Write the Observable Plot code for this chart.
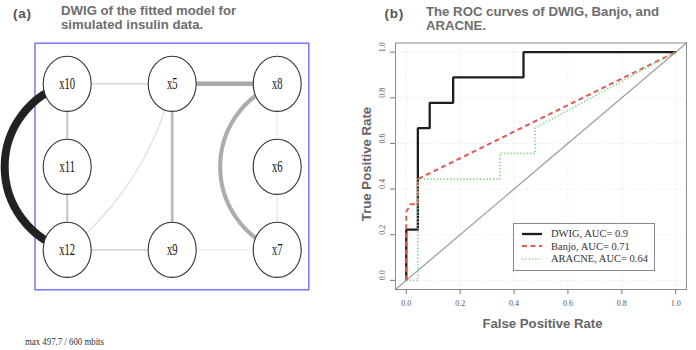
<!DOCTYPE html>
<html>
<head>
<meta charset="utf-8">
<script src="https://cdn.jsdelivr.net/npm/d3@7"></script>
<script src="https://cdn.jsdelivr.net/npm/@observablehq/plot@0.6"></script>
<style>
  body { margin: 0; background: #fff; }
  #wrap { position: relative; width: 696px; height: 350px; overflow: hidden; background: #fff;
          font-family: "Liberation Sans", Arial, sans-serif; }
  .abs { position: absolute; white-space: nowrap; }
  .tag { font-weight: bold; font-size: 13.5px; line-height: 16px; color: #555; letter-spacing: 0.8px; }
  .ttl { font-weight: bold; font-size: 13.2px; line-height: 14.6px; color: #6e6e6e; }
  .axl { font-weight: bold; font-size: 13.2px; line-height: 16px; color: #666; }
  .foot { font-family: "Liberation Serif", "Times New Roman", serif; font-size: 11px; line-height: 13px;
          color: #333; transform: scaleX(0.8); transform-origin: 0 0; }
  #legend { border: 1px solid #8a8a8a; box-sizing: border-box; background: #fff;
            padding: 3.3px 0 0 8px; font-family: "Liberation Serif", "Times New Roman", serif;
            font-size: 10.5px; color: #333; }
  #legend .row { display: flex; align-items: center; height: 12.5px; }
  #legend svg { margin-right: 9px; }
</style>
</head>
<body>
<div id="wrap">
  <div id="plotA" class="abs" style="left:0;top:0;width:348px;height:350px"></div>
  <div id="plotB" class="abs" style="left:348px;top:0;width:348px;height:350px"></div>
  <div class="abs tag" style="left:13px;top:5.6px">(a)</div>
  <div class="abs ttl" style="left:61px;top:3.8px">DWIG of the fitted model for<br>simulated insulin data.</div>
  <div class="abs tag" style="left:384.5px;top:6.3px">(b)</div>
  <div class="abs ttl" style="left:426px;top:4.8px">The ROC curves of DWIG, Banjo, and<br>ARACNE.</div>
  <div class="abs axl" style="left:542.5px;top:316.3px;transform:translateX(-50%)">False Positive Rate</div>
  <div class="abs axl" style="left:367px;top:163.5px;transform:translate(-50%,-50%) rotate(-90deg)">True Positive Rate</div>
  <div id="legend" class="abs" style="left:513px;top:223px;width:142px;height:48px"></div>
  <div class="abs foot" style="left:25px;top:334.8px">max 497.7 / 600 mbits</div>
</div>
<script>
// ---------------- Panel (a): network data ----------------
const nodeNames = ["x10", "x5", "x8", "x11", "x6", "x12", "x9", "x7"];
const nodeCol   = [0, 1, 2, 0, 2, 0, 1, 2];
const nodeRow   = [0, 0, 0, 1, 1, 2, 2, 2];

const edgeSource = ["x10", "x5", "x8", "x5", "x10", "x11", "x12", "x10", "x5", "x6", "x9", "x8"];
const edgeTarget = ["x12", "x8", "x7", "x9", "x11", "x12", "x9", "x5", "x12", "x7", "x7", "x6"];
const edgeWeight = [0.95, 0.50, 0.48, 0.40, 0.30, 0.30, 0.22, 0.20, 0.15, 0.13, 0.10, 0.08];

// ---------------- Panel (b): ROC data ----------------
const rocTicks = [0, 0.2, 0.4, 0.6, 0.8, 1.0];
const axisDomain = [-0.04, 1.04];

const dwigFPR = [0, 0, 0.043, 0.043, 0.087, 0.087, 0.174, 0.174, 0.435, 0.435, 1.0];
const dwigTPR = [0, 0.222, 0.222, 0.667, 0.667, 0.778, 0.778, 0.889, 0.889, 1.0, 1.0];

const banjoFPR = [0, 0, 0.015, 0.043, 0.043, 1.0];
const banjoTPR = [0, 0.30, 0.333, 0.333, 0.444, 1.0];

const aracneFPR = [0, 0.043, 0.043, 0.348, 0.348, 0.478, 0.478, 1.0];
const aracneTPR = [0, 0, 0.444, 0.444, 0.556, 0.556, 0.667, 1.0];

const seriesNames = ["DWIG", "Banjo", "ARACNE"];
const seriesAUC = ["0.9", "0.71", "0.64"];

// ---------------- styles ----------------
const serif = "Liberation Serif, Times New Roman, serif";
const edgeColor = d3.scaleLinear().domain([0.08, 0.3, 0.5, 0.95]).range(["#ededed", "#c8c8c8", "#a9a9a9", "#222222"]);
const edgeWidth = d3.scaleLinear().domain([0.08, 0.4, 0.5, 0.95]).range([1, 2.6, 4.5, 8]);
const edgeBend = { "x10-x12": -74, "x8-x7": -69, "x5-x12": 19 };
const seriesStyle = {
  DWIG:   { stroke: "#1e1e1e", strokeWidth: 2.3, strokeDasharray: null },
  Banjo:  { stroke: "#e35a5a", strokeWidth: 2, strokeDasharray: "5,3.5" },
  ARACNE: { stroke: "#7fd87f", strokeWidth: 1.7, strokeDasharray: "1.3,2" }
};

// ---------------- build panel (a) ----------------
const nodes = nodeNames.map((name, i) => ({ name, col: nodeCol[i], row: nodeRow[i] }));
const nodeBy = new Map(nodes.map(n => [n.name, n]));
const edges = edgeSource.map((s, i) => ({ s, t: edgeTarget[i], w: edgeWeight[i], key: s + "-" + edgeTarget[i] }));

const ellipse = {
  draw(ctx, size) {
    const rx = Math.sqrt(size / Math.PI), ry = rx * 1.15, k = 0.5523;
    ctx.moveTo(rx, 0);
    ctx.bezierCurveTo(rx, k * ry, k * rx, ry, 0, ry);
    ctx.bezierCurveTo(-k * rx, ry, -rx, k * ry, -rx, 0);
    ctx.bezierCurveTo(-rx, -k * ry, -k * rx, -ry, 0, -ry);
    ctx.bezierCurveTo(k * rx, -ry, rx, -k * ry, rx, 0);
    ctx.closePath();
  }
};

const bendGroups = d3.groups(edges, e => edgeBend[e.key] || 0);
const edgeMarks = bendGroups.map(([bend, list]) =>
  Plot.arrow(list, {
    x1: e => nodeBy.get(e.s).col, y1: e => nodeBy.get(e.s).row,
    x2: e => nodeBy.get(e.t).col, y2: e => nodeBy.get(e.t).row,
    bend, headLength: 0,
    stroke: e => edgeColor(e.w), strokeWidth: e => edgeWidth(e.w),
    strokeLinecap: "butt"
  })
);

const plotA = Plot.plot({
  width: 348, height: 350,
  marginLeft: 34.5, marginRight: 39.7, marginTop: 42.7, marginBottom: 60.7,
  x: { domain: [0, 2], range: [66.7, 276.7], axis: null },
  y: { domain: [0, 2], range: [83.3, 249.3], axis: null },
  color: { type: "identity" },
  style: { background: "transparent", overflow: "visible" },
  marks: [
    Plot.frame({ stroke: "#6e6eff", strokeWidth: 1.4 }),
    ...edgeMarks,
    Plot.dot(nodes, { x: "col", y: "row", symbol: ellipse, r: 24, fill: "white", stroke: "#333", strokeWidth: 1.1 }),
    Plot.text(nodes, { x: "col", y: "row", text: "name", fontFamily: serif, fontSize: 17, fill: "#111" })
  ]
});
document.getElementById("plotA").appendChild(plotA);
d3.select(plotA).selectAll('g[aria-label="text"] text').each(function () {
  const t = this.getAttribute("transform");
  if (t && /translate/.test(t)) this.setAttribute("transform", t + " scale(0.62,1)");
  else {
    const x = +this.getAttribute("x") || 0, y = +this.getAttribute("y") || 0;
    this.removeAttribute("x"); this.removeAttribute("y");
    this.setAttribute("transform", `translate(${x},${y}) scale(0.62,1)`);
  }
});

// ---------------- build panel (b) ----------------
const fmt = d3.format(".1f");
const series = [
  { name: "DWIG", fpr: dwigFPR, tpr: dwigTPR },
  { name: "Banjo", fpr: banjoFPR, tpr: banjoTPR },
  { name: "ARACNE", fpr: aracneFPR, tpr: aracneTPR }
];
const lineMarks = series.map(s =>
  Plot.line(s.fpr.map((x, i) => ({ x, y: s.tpr[i] })), {
    x: "x", y: "y", ...seriesStyle[s.name], strokeLinejoin: "miter", strokeLinecap: "butt"
  })
);

const plotB = Plot.plot({
  width: 348, height: 350,
  marginLeft: 47, marginRight: 10, marginTop: 42.5, marginBottom: 61,
  x: { domain: axisDomain },
  y: { domain: axisDomain },
  style: { background: "transparent", overflow: "visible", color: "#555" },
  marks: [
    Plot.gridX(rocTicks, { stroke: "#e2e2e2", strokeOpacity: 1, strokeDasharray: "1,2" }),
    Plot.gridY(rocTicks, { stroke: "#e2e2e2", strokeOpacity: 1, strokeDasharray: "1,2" }),
    Plot.line(axisDomain, { x: d => d, y: d => d, stroke: "#a0a0a0", strokeWidth: 1.3 }),
    ...lineMarks,
    Plot.frame({ stroke: "#8c8c8c" }),
    Plot.axisX(rocTicks, { tickSize: 5, tickPadding: 6, tickFormat: fmt, fontSize: 8, fontFamily: serif,
                           stroke: "#777", fill: "#555", label: null }),
    Plot.axisY(rocTicks, { tickSize: 5, stroke: "#777", tickFormat: () => "", label: null }),
    Plot.text(rocTicks, { frameAnchor: "left", y: d => d, text: d => fmt(d), rotate: -90, dx: -13,
                          fontSize: 8, fontFamily: serif, fill: "#555" })
  ]
});
document.getElementById("plotB").appendChild(plotB);

// ---------------- legend ----------------
const legend = d3.select("#legend");
seriesNames.forEach((name, i) => {
  const st = seriesStyle[name];
  const row = legend.append("div").attr("class", "row");
  const svg = row.append("svg").attr("width", 20).attr("height", 12);
  svg.append("line").attr("x1", 0).attr("x2", 20).attr("y1", 6).attr("y2", 6)
    .attr("stroke", st.stroke).attr("stroke-width", st.strokeWidth)
    .attr("stroke-dasharray", st.strokeDasharray);
  row.append("span").text(`${name}, AUC= ${seriesAUC[i]}`);
});
</script>
</body>
</html>
